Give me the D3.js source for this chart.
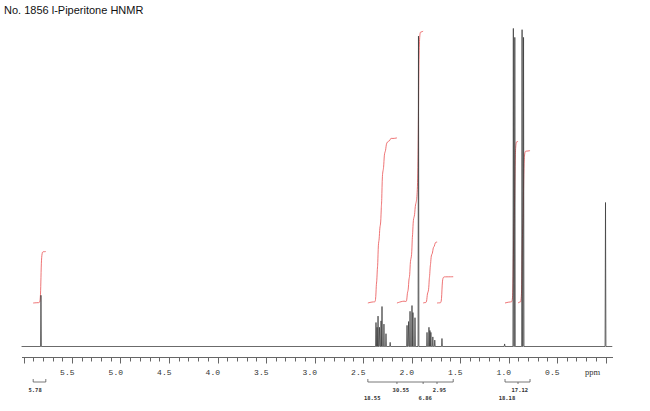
<!DOCTYPE html>
<html><head><meta charset="utf-8">
<script src="https://cdn.jsdelivr.net/npm/d3@7/dist/d3.min.js"></script>
<style>html,body{margin:0;padding:0;background:#fff;}svg{display:block;}</style>
</head><body><svg id="c" width="650" height="411"></svg>
<script>
// ---- data ----
const title = "No. 1856 l-Piperitone HNMR";
const tickLabels = [5.5, 5.0, 4.5, 4.0, 3.5, 3.0, 2.5, 2.0, 1.5, 1.0, 0.5];
const axisUnit = "ppm";
// peak list (ppm, relative intensity 0-100)
const peakPpm = [5.82,
  2.366, 2.355, 2.345, 2.33, 2.314, 2.304, 2.284, 2.263, 2.22,
  2.046, 2.03, 2.015, 1.995, 1.985, 1.964, 1.928,
  1.84, 1.82, 1.81, 1.80, 1.78, 1.76, 1.686,
  1.04, 0.95, 0.935, 0.86, 0.845, 0.0];
const peakHeight = [16,
  7.5, 6, 9.5, 6, 8, 12.5, 7, 4, 1.3,
  6.6, 7.8, 11, 12.8, 10.6, 9, 97,
  4.4, 6, 5, 4.4, 3, 2, 2.5,
  0.8, 99.4, 96.6, 99, 96.6, 45];
// integrals
const integralLabels = ["5.78", "18.55", "30.55", "6.86", "2.95", "18.18", "17.12"];
const integralValues = [5.78, 18.55, 30.55, 6.86, 2.95, 18.18, 17.12];
const integralStart = [5.90, 2.45, 2.15, 1.88, 1.737, 1.036, 0.902];
const integralEnd   = [5.77, 2.15, 1.88, 1.737, 1.57, 0.902, 0.778];
const integralGroups = [[0], [1, 2, 3, 4], [5, 6]];

// ---- drawing ----
const svg = d3.select("#c");
const x = d3.scaleLinear().domain([6.0, 0.0]).range([23.5, 605.5]);
const y = d3.scaleLinear().domain([0, 100]).range([346.5, 26.5]);
const yi = d3.scaleLinear().domain([0, 40]).range([303, 303 - 356]);

svg.append("text").attr("x", 4).attr("y", 14).text(title)
  .attr("font-family", "'Liberation Sans', Arial, sans-serif").attr("font-size", 11).attr("fill", "#111");

// integrals (red)
const red = "#e8484a";
integralValues.forEach((v, i) => {
  const s = integralStart[i], e = integralEnd[i];
  const idx = peakPpm.map((p, j) => j).filter(j => peakPpm[j] <= s && peakPpm[j] >= e)
    .sort((a, b) => peakPpm[b] - peakPpm[a]);
  const tot = d3.sum(idx, j => peakHeight[j]);
  const pts = [[s, 0], [peakPpm[idx[0]] + 0.02, v * 0.01]];
  let cum = 0;
  const d = 0.003;
  idx.forEach(j => {
    pts.push([peakPpm[j] + d, cum]);
    cum += peakHeight[j] / tot * v;
    pts.push([peakPpm[j] - d, cum]);
  });
  pts.push([peakPpm[idx[idx.length - 1]] - 0.025, v * 0.995]);
  pts.push([e, v]);
  svg.append("path").datum(pts)
    .attr("d", d3.line().curve(d3.curveBasis).x(p => x(p[0])).y(p => yi(p[1])))
    .attr("fill", "none").attr("stroke", red).attr("stroke-width", 0.9).attr("opacity", 0.85);
});

// spectrum
const order = d3.range(peakPpm.length).sort((a, b) => peakPpm[b] - peakPpm[a]);
const spec = [[6.02, 0]];
const w = 0.0045;
order.forEach(j => {
  spec.push([peakPpm[j] + w, 0]);
  spec.push([peakPpm[j], peakHeight[j]]);
  spec.push([peakPpm[j] - w, 0]);
});
spec.push([-0.07, 0]);
svg.append("path").datum(spec)
  .attr("d", d3.line().x(p => x(p[0])).y(p => y(p[1])))
  .attr("fill", "none").attr("stroke", "#3a3a3a").attr("stroke-width", 0.75);

// axis
const axY = 357.5;
svg.append("line").attr("x1", 22).attr("x2", 613).attr("y1", axY).attr("y2", axY)
  .attr("stroke", "#666").attr("stroke-width", 1);
const minor = d3.range(0, 61).map(k => (60 - k) / 10);
svg.selectAll(".mt").data(minor).enter().append("line")
  .attr("x1", d => Math.round(x(d)) + 0.5).attr("x2", d => Math.round(x(d)) + 0.5)
  .attr("y1", axY).attr("y2", (d, k) => axY + ((60 - k) % 5 === 0 ? 6 : 4))
  .attr("stroke", "#666").attr("stroke-width", 1);
svg.selectAll(".tl").data(tickLabels).enter().append("text")
  .attr("x", d => x(d) + 2.5).attr("y", 375).attr("text-anchor", "end")
  .text(d => d.toFixed(1))
  .attr("font-family", "'Liberation Mono', monospace").attr("font-size", 8).attr("fill", "#333");
svg.append("text").attr("x", 600).attr("y", 375).attr("text-anchor", "end").text(axisUnit)
  .attr("font-family", "'Liberation Serif', serif").attr("font-size", 8.5).attr("fill", "#333");

// integral brackets and labels
const brY = 382;
integralGroups.forEach(g => {
  const s = integralStart[g[0]], e = integralEnd[g[g.length - 1]];
  svg.append("line").attr("x1", x(s)).attr("x2", x(e)).attr("y1", brY).attr("y2", brY)
    .attr("stroke", "#555").attr("stroke-width", 0.8);
  [s, e].forEach(p => svg.append("line").attr("x1", x(p)).attr("x2", x(p))
    .attr("y1", brY - 3).attr("y2", brY).attr("stroke", "#555").attr("stroke-width", 0.8));
  g.slice(1).forEach(i => svg.append("line").attr("x1", x(integralStart[i])).attr("x2", x(integralStart[i]))
    .attr("y1", brY).attr("y2", brY + 2).attr("stroke", "#555").attr("stroke-width", 0.8));
  g.forEach((i, k) => {
    const upper = (g.length - 1 - k) % 2 === 0;
    const lx = x(integralStart[i] + (integralEnd[i] - integralStart[i]) * 0.15);
    svg.append("text").attr("x", lx).attr("y", upper ? 392 : 400)
      .attr("text-anchor", "middle")
      .text(integralLabels[i])
      .attr("font-family", "'DejaVu Sans Mono', monospace").attr("font-size", 5.5)
      .attr("font-weight", "bold").attr("fill", "#333");
  });
});
</script></body></html>
